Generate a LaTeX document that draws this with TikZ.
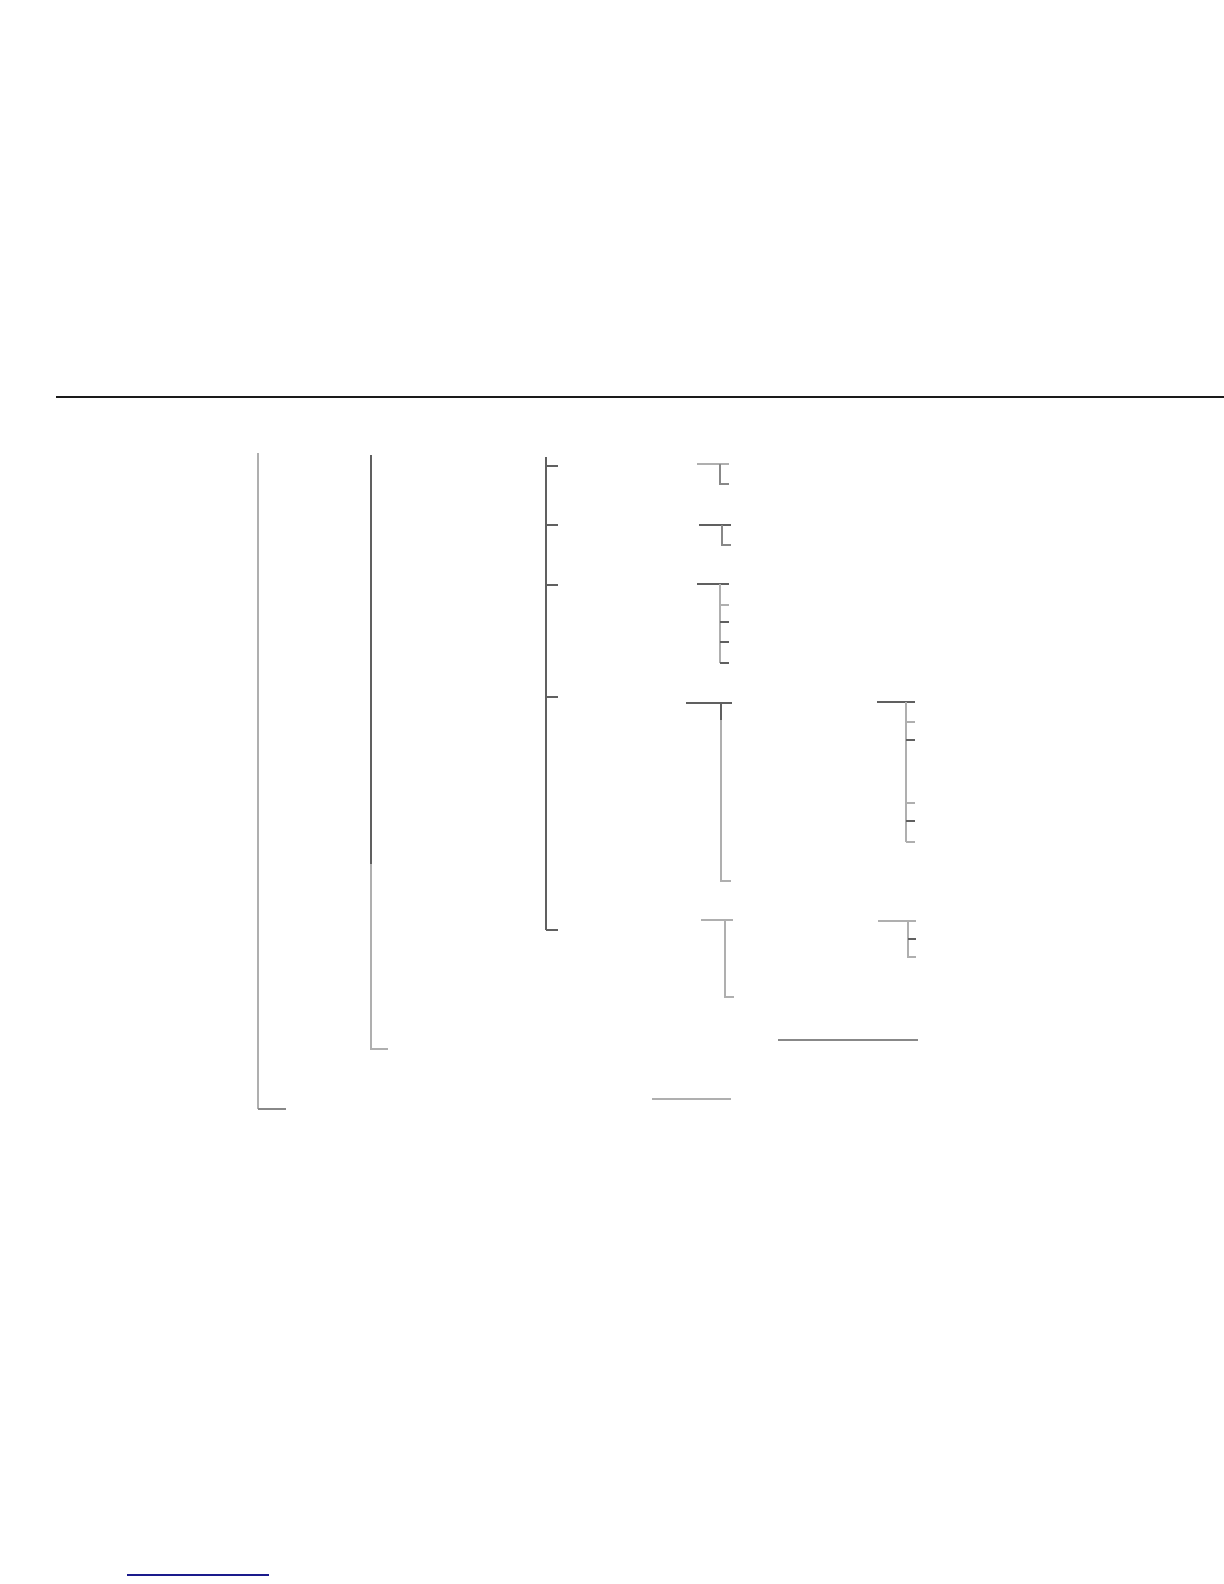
\documentclass[tikz,border=0pt]{standalone}
\usepackage{xcolor}
\definecolor{darkln}{HTML}{606060}
\definecolor{midln}{HTML}{888888}
\definecolor{lightln}{HTML}{AFAFAF}
\definecolor{ruleln}{HTML}{1A1A1A}
\definecolor{navyln}{HTML}{1A1A8C}
\begin{document}
\begin{tikzpicture}[x=0.5pt,y=-0.5pt,
  dk/.style={draw=darkln,line width=0.55pt},
  md/.style={draw=midln,line width=0.55pt},
  lt/.style={draw=lightln,line width=0.6pt},
  toprule/.style={draw=ruleln,line width=1.1pt},
  linkln/.style={draw=navyln,line width=0.7pt}]
\useasboundingbox (0,0) rectangle (1224,1584);
\fill[white] (0,0) rectangle (1224,1584);
% top rule
\draw[toprule] (56,397) -- (1224,397);
% level 0
\draw[lt] (258,453) -- (258,1109);
\draw[md] (258,1109) -- (286,1109);
% level 1
\draw[dk] (371,455) -- (371,864);
\draw[lt] (371,864) -- (371,1049) -- (388,1049);
% level 2
\draw[dk] (546,457) -- (546,930);
\foreach \yy in {466,525,585,697,930} \draw[dk] (546,\yy) -- (558,\yy);
% group 1
\draw[lt] (697,464) -- (729,464);
\draw[md] (720,464) -- (720,484) -- (729,484);
% group 2
\draw[dk] (699,525) -- (731,525);
\draw[md] (722,525) -- (722,545) -- (731,545);
% group 3
\draw[dk] (697,584) -- (729,584);
\draw[lt] (720,584) -- (720,663);
\draw[lt] (720,605) -- (729,605);
\foreach \yy in {622,642,663} \draw[dk] (720,\yy) -- (729,\yy);
% group 4
\draw[dk] (686,703) -- (732,703);
\draw[dk] (721,703) -- (721,720);
\draw[lt] (721,720) -- (721,881) -- (731,881);
% right group A
\draw[dk] (877,702) -- (915,702);
\draw[lt] (906,702) -- (906,842);
\draw[lt] (906,722) -- (915,722);
\draw[dk] (906,740) -- (915,740);
\draw[lt] (906,803) -- (915,803);
\draw[dk] (906,821) -- (915,821);
\draw[lt] (906,842) -- (915,842);
% group 5
\draw[lt] (701,920) -- (733,920);
\draw[lt] (725,920) -- (725,997) -- (734,997);
% right group B
\draw[lt] (878,921) -- (916,921);
\draw[lt] (908,921) -- (908,957) -- (916,957);
\draw[dk] (908,939) -- (916,939);
% lines
\draw[md] (778,1040) -- (918,1040);
\draw[lt] (652,1099) -- (731,1099);
% link underline
\draw[linkln] (127,1575) -- (269,1575);
\end{tikzpicture}
\end{document}
